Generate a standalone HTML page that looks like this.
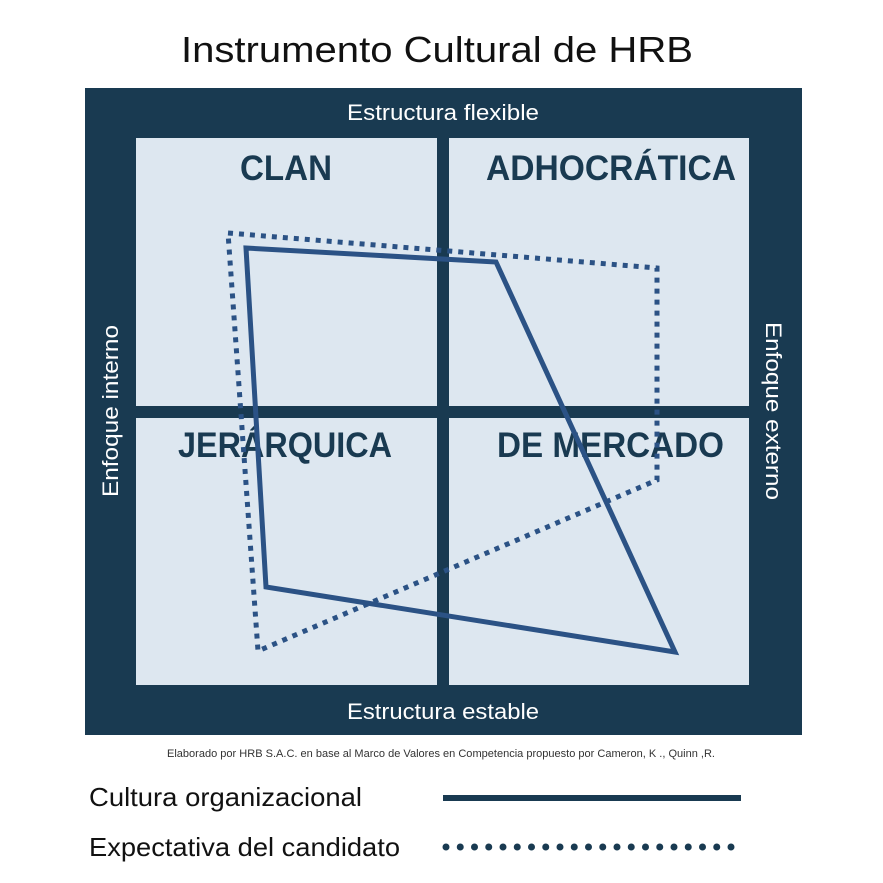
<!DOCTYPE html>
<html><head><meta charset="utf-8"><style>body{margin:0;background:#fff}svg{display:block}</style></head>
<body>
<svg width="883" height="883" viewBox="0 0 883 883" xmlns="http://www.w3.org/2000/svg" font-family="Liberation Sans, sans-serif">
<rect width="883" height="883" fill="#fff"/>
<text x="437" y="62" font-size="36" text-anchor="middle" fill="#111" textLength="512" lengthAdjust="spacingAndGlyphs">Instrumento Cultural de HRB</text>
<rect x="85" y="88" width="717" height="647" fill="#193a51"/>
<rect x="136" y="138" width="301" height="268" fill="#dde7f0"/>
<rect x="449" y="138" width="300" height="268" fill="#dde7f0"/>
<rect x="136" y="418" width="301" height="267" fill="#dde7f0"/>
<rect x="449" y="418" width="300" height="267" fill="#dde7f0"/>
<text x="443" y="120" font-size="22" fill="#fff" text-anchor="middle" textLength="192" lengthAdjust="spacingAndGlyphs">Estructura flexible</text>
<text x="443" y="719" font-size="22" fill="#fff" text-anchor="middle" textLength="192" lengthAdjust="spacingAndGlyphs">Estructura estable</text>
<text transform="translate(118,411) rotate(-90)" font-size="22" fill="#fff" text-anchor="middle" textLength="172" lengthAdjust="spacingAndGlyphs">Enfoque interno</text>
<text transform="translate(766,411) rotate(90)" font-size="22" fill="#fff" text-anchor="middle" textLength="178" lengthAdjust="spacingAndGlyphs">Enfoque externo</text>
<g font-weight="bold" font-size="35" fill="#193a51">
<text x="240" y="180" textLength="92" lengthAdjust="spacingAndGlyphs">CLAN</text>
<text x="486" y="180" textLength="250" lengthAdjust="spacingAndGlyphs">ADHOCRÁTICA</text>
<text x="178" y="457" textLength="214" lengthAdjust="spacingAndGlyphs">JERÁRQUICA</text>
<text x="497" y="457" textLength="227" lengthAdjust="spacingAndGlyphs">DE MERCADO</text>
</g>
<polygon points="228,233 657,268 657,480 258,651" fill="none" stroke="#2b5285" stroke-width="5" stroke-dasharray="5,6"/>
<polygon points="246,248 496,262 675,652 266,587" fill="none" stroke="#2b5285" stroke-width="5" stroke-linejoin="miter"/>
<text x="441" y="757" font-size="11" fill="#333" text-anchor="middle" textLength="548" lengthAdjust="spacingAndGlyphs">Elaborado por HRB S.A.C. en base al Marco de Valores en Competencia propuesto por Cameron, K ., Quinn ,R.</text>
<text x="89" y="806" font-size="26" fill="#111" textLength="273" lengthAdjust="spacingAndGlyphs">Cultura organizacional</text>
<text x="89" y="856" font-size="26" fill="#111" textLength="311" lengthAdjust="spacingAndGlyphs">Expectativa del candidato</text>
<rect x="443" y="795" width="298" height="6" fill="#193a51"/>
<line x1="446" y1="847" x2="734" y2="847" stroke="#193a51" stroke-width="7" stroke-linecap="round" stroke-dasharray="0,14.25"/>
</svg>
</body></html>
